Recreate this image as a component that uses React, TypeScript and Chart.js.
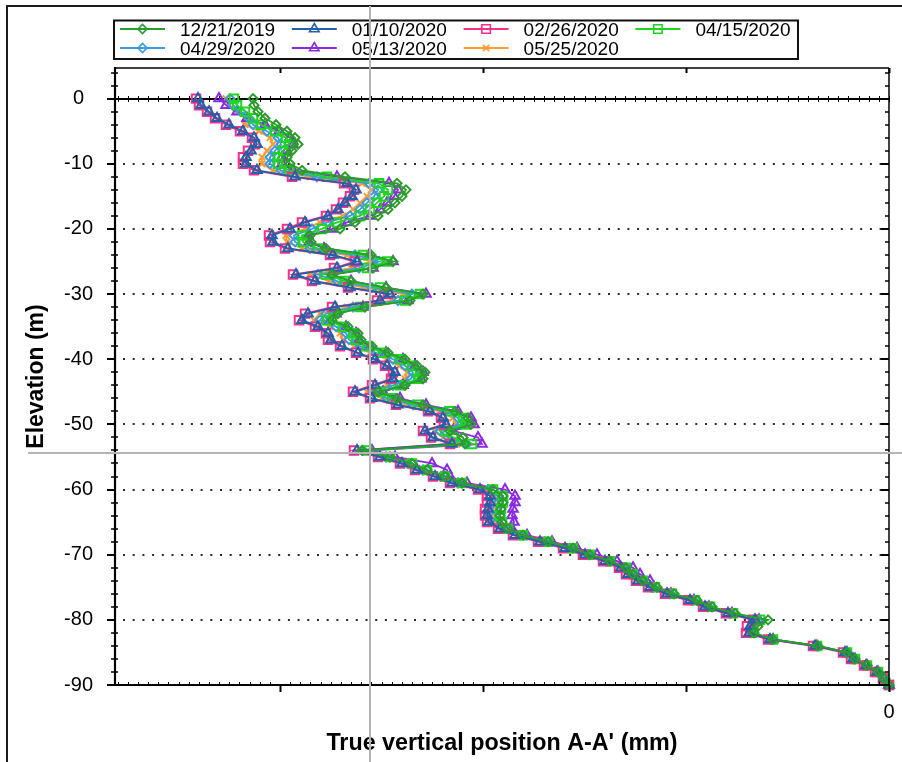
import { useEffect, useRef } from 'react';
import { Chart, registerables } from 'chart.js';
import { drawPoint } from 'chart.js/helpers';

Chart.register(...registerables);

// Elevation of each reading (m)
const elevations = [
  0, -1, -2, -3, -4, -5, -6, -7, -8, -9,
  -10, -11, -12, -13, -14, -15, -16, -17, -18, -19,
  -20, -21, -22, -23, -24, -25, -26, -27, -28, -29,
  -30, -31, -32, -33, -34, -35, -36, -37, -38, -39,
  -40, -41, -42, -43, -44, -45, -46, -47, -48, -49,
  -50, -51, -52, -53, -54, -55, -56, -57, -58, -59,
  -60, -61, -62, -63, -64, -65, -66, -67, -68, -69,
  -70, -71, -72, -73, -74, -75, -76, -77, -78, -79,
  -80, -81, -82, -83, -84, -85, -86, -87, -88, -89,
  -90,
];

// True vertical position per survey (mm), one value per elevation
const pos20191221 = [
  -636, -635, -631, -624, -613, -602, -594, -591, -597, -602,
  -599, -587, -544, -492, -483, -487, -494, -501, -511, -534,
  -549, -579, -578, -563, -518, -496, -516, -557, -538, -503,
  -466, -479, -524, -551, -557, -541, -531, -528, -517, -501,
  -484, -472, -464, -466, -484, -511, -492, -466, -434, -421,
  -418, -439, -426, -424, -527, -499, -477, -462, -444, -427,
  -396, -386, -386, -388, -389, -387, -381, -366, -341, -316,
  -299, -279, -263, -256, -246, -232, -215, -192, -177, -154,
  -121, -131, -135, -116, -71, -42, -34, -22, -11, -5,
  0,
];
const pos20200110 = [
  -691, -688, -680, -672, -660, -646, -635, -632, -638, -643,
  -643, -632, -594, -542, -533, -537, -544, -551, -561, -584,
  -599, -617, -616, -601, -556, -532, -552, -593, -574, -539,
  -499, -509, -554, -581, -587, -571, -561, -558, -547, -531,
  -514, -502, -494, -496, -514, -534, -517, -491, -459, -446,
  -443, -464, -456, -437, -532, -509, -487, -472, -454, -437,
  -409, -399, -399, -401, -402, -400, -389, -374, -349, -324,
  -304, -284, -268, -261, -251, -239, -222, -199, -184, -161,
  -134, -139, -140, -119, -74, -44, -36, -23, -12, -5,
  0,
];
const pos20200226 = [
  -693, -690, -682, -674, -663, -649, -637, -634, -641, -646,
  -646, -635, -597, -545, -535, -539, -546, -553, -563, -587,
  -602, -620, -619, -604, -559, -534, -555, -596, -577, -541,
  -501, -512, -557, -584, -590, -574, -563, -561, -549, -533,
  -516, -504, -496, -498, -517, -536, -519, -493, -461, -448,
  -445, -466, -458, -439, -535, -511, -489, -474, -456, -439,
  -411, -402, -402, -404, -404, -402, -391, -376, -351, -326,
  -306, -286, -270, -263, -253, -241, -224, -201, -186, -163,
  -136, -142, -143, -121, -76, -46, -38, -25, -14, -6,
  0,
];
const pos20200415 = [
  -655, -652, -644, -636, -628, -614, -603, -600, -606, -611,
  -611, -600, -562, -510, -501, -505, -512, -519, -529, -552,
  -567, -587, -586, -571, -526, -502, -522, -563, -544, -509,
  -469, -484, -529, -556, -562, -546, -536, -533, -522, -506,
  -489, -477, -469, -471, -489, -509, -497, -471, -439, -426,
  -423, -444, -436, -417, -522, -499, -477, -462, -444, -427,
  -396, -386, -386, -388, -389, -387, -381, -366, -341, -316,
  -299, -279, -263, -256, -246, -234, -217, -194, -179, -156,
  -129, -136, -137, -116, -72, -42, -34, -22, -11, -5,
  0,
];
const pos20200429 = [
  -659, -656, -648, -640, -636, -622, -611, -608, -614, -619,
  -619, -608, -572, -520, -511, -515, -522, -529, -539, -562,
  -577, -595, -594, -579, -534, -510, -530, -571, -552, -517,
  -477, -491, -536, -563, -569, -553, -543, -540, -529, -513,
  -496, -484, -476, -478, -496, -516, -502, -476, -444, -431,
  -428, -449, -441, -422, -526, -503, -481, -466, -448, -431,
  -401, -391, -391, -393, -394, -392, -384, -369, -344, -319,
  -301, -281, -265, -258, -248, -236, -219, -196, -181, -158,
  -131, -137, -138, -117, -72, -43, -35, -22, -11, -4,
  0,
];
const pos20200513 = [
  -670, -663, -652, -642, -624, -610, -599, -596, -602, -607,
  -607, -596, -552, -500, -491, -495, -502, -509, -519, -542,
  -557, -581, -580, -565, -520, -496, -516, -557, -538, -503,
  -463, -481, -526, -553, -559, -543, -533, -530, -519, -503,
  -486, -474, -466, -468, -486, -506, -489, -463, -431, -418,
  -415, -436, -411, -407, -517, -494, -457, -442, -439, -422,
  -384, -374, -374, -376, -377, -375, -377, -362, -337, -312,
  -292, -272, -256, -249, -239, -235, -218, -195, -180, -157,
  -130, -136, -137, -116, -72, -42, -34, -22, -11, -5,
  0,
];
const pos20200525 = [
  -663, -660, -652, -644, -644, -630, -619, -616, -622, -627,
  -627, -616, -579, -527, -518, -522, -529, -536, -546, -569,
  -584, -603, -602, -587, -542, -518, -538, -579, -560, -525,
  -485, -497, -542, -569, -575, -559, -549, -546, -535, -519,
  -502, -490, -482, -484, -502, -522, -507, -481, -449, -436,
  -433, -454, -446, -427, -528, -505, -483, -468, -450, -433,
  -404, -394, -394, -396, -397, -395, -386, -371, -346, -321,
  -302, -282, -266, -259, -249, -237, -220, -197, -182, -159,
  -132, -137, -138, -118, -73, -43, -35, -22, -12, -4,
  0,
];

const surveyLabels = ['12/21/2019', '01/10/2020', '02/26/2020', '04/15/2020', '04/29/2020', '05/13/2020', '05/25/2020'];
const surveyValues = [pos20191221, pos20200110, pos20200226, pos20200415, pos20200429, pos20200513, pos20200525];

// Axis ticks
const yTickValues = [0, -10, -20, -30, -40, -50, -60, -70, -80, -90];
const yDottedValues = [-10, -20, -30, -40, -50, -60, -70, -80];
const xTickLabelValues = [0];

// Marker / line styling per survey
const surveyStyles = [
  { color: '#2a9e2a', pointStyle: 'rectRot', radius: 4.5 },
  { color: '#2360a8', pointStyle: 'triangle', radius: 5.5 },
  { color: '#ff2e8b', pointStyle: 'rect', radius: 6 },
  { color: '#1fd61f', pointStyle: 'rect', radius: 6 },
  { color: '#3b9ae1', pointStyle: 'rectRot', radius: 4.5 },
  { color: '#8a2be2', pointStyle: 'triangle', radius: 5.5 },
  { color: '#ff9a2e', pointStyle: 'crossRot', radius: 4.5 },
];

const FONT = '"Liberation Sans", Arial, sans-serif';
const X_MAJOR_STEP = 203;
const X_MINOR_STEP = X_MAJOR_STEP / 20;
const Y_MINOR_STEP = 2;

function seg(ctx: CanvasRenderingContext2D, x1: number, y1: number, x2: number, y2: number) {
  ctx.beginPath();
  ctx.moveTo(x1, y1);
  ctx.lineTo(x2, y2);
  ctx.stroke();
}

const plotDecor = {
  id: 'plotDecor',
  beforeDraw(chart: any) {
    const { ctx, width, height } = chart;
    ctx.save();
    ctx.fillStyle = '#ffffff';
    ctx.fillRect(0, 0, width, height);
    ctx.strokeStyle = '#1c1c1c';
    ctx.lineWidth = 2;
    ctx.strokeRect(7, 6, width + 40, height + 40);
    ctx.restore();
  },
  beforeDatasetsDraw(chart: any) {
    const { ctx, chartArea: a } = chart;
    const x = chart.scales.x;
    const y = chart.scales.y;
    ctx.save();
    // dotted elevation lines
    ctx.strokeStyle = '#2a2a2a';
    ctx.lineWidth = 2;
    ctx.setLineDash([2, 7.7]);
    for (const v of yDottedValues) {
      const py = Math.round(y.getPixelForValue(v));
      seg(ctx, a.left + 8, py, a.right, py);
    }
    ctx.setLineDash([]);
    // solid zero line with small ticks
    const p0 = Math.round(y.getPixelForValue(0));
    ctx.strokeStyle = '#000';
    ctx.lineWidth = 2;
    seg(ctx, a.left, p0, a.right, p0);
    ctx.lineWidth = 1;
    for (let v = x.max; v >= x.min; v -= X_MINOR_STEP) {
      const px = Math.round(x.getPixelForValue(v)) + 0.5;
      seg(ctx, px, p0 - 3, px, p0 + 3);
    }
    ctx.restore();
  },
  afterDraw(chart: any) {
    const { ctx, chartArea: a } = chart;
    const x = chart.scales.x;
    const y = chart.scales.y;
    ctx.save();
    ctx.strokeStyle = '#000';

    // axis lines
    ctx.lineWidth = 2.2;
    seg(ctx, a.left, a.top - 1, a.left, a.bottom + 1);
    seg(ctx, a.left - 1, a.bottom, a.right + 1, a.bottom);
    ctx.lineWidth = 1.5;
    seg(ctx, a.left, a.top, a.right, a.top);
    seg(ctx, a.right, a.top, a.right, a.bottom);

    // y ticks (left and right)
    for (let v = y.min; v <= y.max; v += Y_MINOR_STEP) {
      const py = Math.round(y.getPixelForValue(v));
      if (v % 10 === 0) {
        ctx.lineWidth = 2;
        seg(ctx, a.left - 8, py, a.left, py);
        seg(ctx, a.right - 8, py, a.right, py);
      } else {
        ctx.lineWidth = 1.5;
        seg(ctx, a.left - 4, py, a.left + 3, py);
        seg(ctx, a.right - 4, py, a.right, py);
      }
    }

    // x ticks (bottom and top)
    let j = 0;
    for (let v = x.max; v >= x.min - 0.01; v -= X_MINOR_STEP, j++) {
      const px = Math.round(x.getPixelForValue(v)) + 0.5;
      if (j % 20 === 0) {
        ctx.lineWidth = 2;
        seg(ctx, px, a.bottom, px, a.bottom + 7);
        seg(ctx, px, a.top, px, a.top + 5);
      } else {
        ctx.lineWidth = 1;
        seg(ctx, px, a.bottom - 3, px, a.bottom);
      }
    }

    // legend
    ctx.lineWidth = 2;
    ctx.strokeStyle = '#111';
    ctx.strokeRect(114, 20.5, 684, 38.5);
    ctx.font = `19px ${FONT}`;
    ctx.textBaseline = 'alphabetic';
    ctx.textAlign = 'left';
    surveyLabels.forEach((label, i) => {
      const st = surveyStyles[i];
      const col = i % 4;
      const row = Math.floor(i / 4);
      const x0 = 120 + col * 171.8;
      const yc = 29 + row * 19;
      ctx.strokeStyle = st.color;
      ctx.lineWidth = 2;
      seg(ctx, x0, yc, x0 + 45, yc);
      ctx.fillStyle = 'rgba(255,255,255,0)';
      ctx.lineWidth = 1.6;
      drawPoint(ctx, { pointStyle: st.pointStyle, rotation: 0, radius: st.radius, borderWidth: 1.6 } as any, x0 + 22.5, yc);
      ctx.fillStyle = '#000';
      ctx.fillText(label, x0 + 60, yc + 6.5);
    });

    // cursor cross-hair
    ctx.strokeStyle = '#b4b4b4';
    ctx.lineWidth = 2;
    seg(ctx, 370, 6, 370, chart.height);
    seg(ctx, 28, 453, chart.width, 453);
    ctx.restore();
  },
};

export default function App() {
  const canvasRef = useRef<HTMLCanvasElement>(null);

  useEffect(() => {
    document.body.style.margin = '0';
    const canvas = canvasRef.current;
    if (!canvas) return;

    const datasets = surveyLabels.map((label, i) => {
      const st = surveyStyles[i];
      return {
        label,
        data: elevations.map((e, k) => ({ x: surveyValues[i][k], y: e })),
        showLine: true,
        borderColor: st.color,
        backgroundColor: 'rgba(255,255,255,0)',
        borderWidth: 1.8,
        pointStyle: st.pointStyle,
        pointRadius: st.radius,
        pointBorderColor: st.color,
        pointBackgroundColor: 'rgba(255,255,255,0)',
        pointBorderWidth: 2,
        tension: 0,
        clip: false,
      };
    });

    const chart = new Chart(canvas, {
      type: 'scatter',
      data: { datasets } as any,
      options: {
        animation: false,
        responsive: false,
        devicePixelRatio: 1,
        events: [],
        layout: { padding: { left: 0, right: 13, top: 68, bottom: 0 } },
        plugins: { legend: { display: false }, tooltip: { enabled: false } },
        scales: {
          x: {
            type: 'linear',
            min: -774,
            max: 0,
            afterBuildTicks: (s: any) => {
              s.ticks = xTickLabelValues.map((v) => ({ value: v }));
            },
            afterFit: (s: any) => {
              s.height = 77;
              s.paddingLeft = 0;
              s.paddingRight = 0;
            },
            grid: { display: false, drawTicks: false },
            border: { display: false },
            ticks: {
              padding: 15,
              maxRotation: 0,
              autoSkip: false,
              color: '#000',
              font: { family: FONT, size: 20 },
            },
            title: {
              display: true,
              text: "True vertical position A-A' (mm)",
              color: '#000',
              font: { family: FONT, size: 23.3, weight: 'bold' },
              padding: { top: 0, bottom: 4 },
            },
          },
          y: {
            type: 'linear',
            min: -90,
            max: 4.7,
            afterBuildTicks: (s: any) => {
              s.ticks = yTickValues.map((v) => ({ value: v }));
            },
            afterFit: (s: any) => {
              s.width = 115;
              s.paddingTop = 0;
              s.paddingBottom = 0;
            },
            grid: { display: false, drawTicks: false },
            border: { display: false },
            ticks: {
              padding: 22,
              crossAlign: 'center',
              autoSkip: false,
              color: '#000',
              font: { family: FONT, size: 20 },
            },
            title: {
              display: true,
              text: 'Elevation (m)',
              color: '#000',
              font: { family: FONT, size: 23, weight: 'bold' },
              padding: { top: 23, bottom: 0 },
            },
          },
        },
      } as any,
      plugins: [plotDecor],
    });

    return () => chart.destroy();
  }, []);

  return <canvas ref={canvasRef} width={902} height={762} style={{ display: 'block' }} />;
}
